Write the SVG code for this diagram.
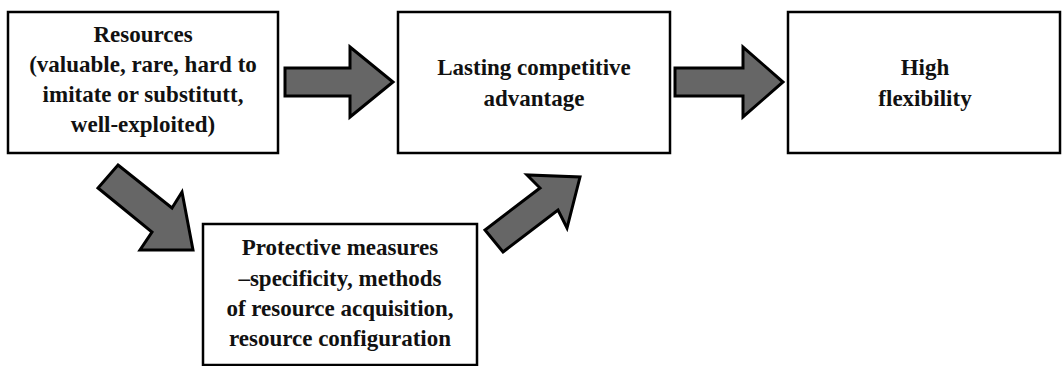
<svg xmlns="http://www.w3.org/2000/svg" width="1063" height="366" viewBox="0 0 1063 366">
  <style>
    .box { fill: #ffffff; stroke: #000000; stroke-width: 2.5; }
    .label { font-family: "Liberation Serif", "DejaVu Serif", serif; font-weight: bold; font-size: 23px; fill: #111111; text-anchor: middle; }
    .arrow { fill: #666666; stroke: #000000; stroke-width: 3; stroke-linejoin: miter; }
  </style>
  <rect width="1063" height="366" fill="#ffffff"/>

  <g id="resources">
    <rect class="box" x="8" y="12" width="270" height="141"/>
    <text class="label" x="143" y="42">Resources</text>
    <text class="label" x="143" y="72">(valuable, rare, hard to</text>
    <text class="label" x="143" y="102">imitate or substitutt,</text>
    <text class="label" x="143" y="132">well-exploited)</text>
  </g>

  <g id="advantage">
    <rect class="box" x="398" y="12" width="272" height="141"/>
    <text class="label" x="534" y="75">Lasting competitive</text>
    <text class="label" x="534" y="106">advantage</text>
  </g>

  <g id="flexibility">
    <rect class="box" x="788" y="12" width="272" height="141"/>
    <text class="label" x="925" y="75">High</text>
    <text class="label" x="925" y="106">flexibility</text>
  </g>

  <g id="protective">
    <rect class="box" x="203" y="224" width="274" height="141"/>
    <text class="label" x="340" y="255">Protective measures</text>
    <text class="label" x="340" y="286">–specificity, methods</text>
    <text class="label" x="340" y="316">of resource acquisition,</text>
    <text class="label" x="340" y="346">resource configuration</text>
  </g>

  <g id="connectors">
    <polygon class="arrow" points="285,68 350,68 350,47 393,82 350,117 350,96 285,96"/>
    <polygon class="arrow" points="675,68 743,68 743,47 783,82 743,117 743,96 675,96"/>
    <polygon class="arrow" points="118,165 172,208 182,192 193,250 140,250 152,232 98,188"/>
    <polygon class="arrow" points="503,252 558,210 567,228 580,177 527,175 540,188 485,230"/>
  </g>
</svg>
